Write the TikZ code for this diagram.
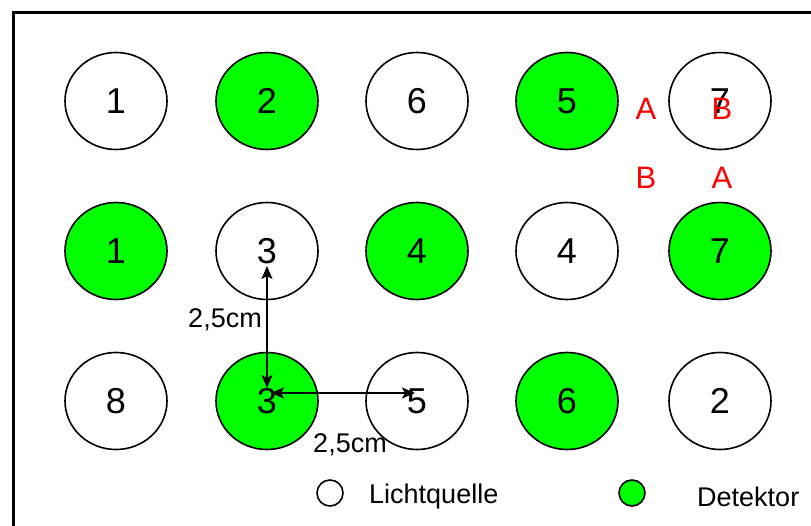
\documentclass[tikz,border=0pt]{standalone}
\usepackage{fontspec}
\setmainfont{Liberation Sans}
\usetikzlibrary{arrows.meta,shapes.geometric}
\definecolor{detgreen}{RGB}{0,255,0}
\tikzset{
  well/.style={ellipse, draw=black, line width=1.6pt, minimum width=102pt,
    minimum height=97pt, inner sep=0pt, font=\fontsize{36}{36}\selectfont},
  src/.style={well, fill=white},
  det/.style={well, fill=detgreen},
  redletter/.style={text=red, font=\fontsize{31}{31}\selectfont, inner sep=0pt},
  dimlabel/.style={font=\fontsize{27}{27}\selectfont, inner sep=0pt},
  dimarrow/.style={line width=1.5pt, {Stealth[length=13pt,width=11pt,inset=3pt]}-{Stealth[length=13pt,width=11pt,inset=3pt]}},
  legsym/.style={circle, draw=black, line width=1.6pt, minimum size=26pt, inner sep=0pt},
  legtext/.style={font=\fontsize{27}{27}\selectfont, inner sep=0pt, anchor=west}
}
\begin{document}
\begin{tikzpicture}[x=1pt,y=-1pt]
\useasboundingbox (0,0) rectangle (811,526);
\clip (0,0) rectangle (811,526);
% outer frame
\draw[line width=3pt] (13,560) -- (13,13) -- (840,13);
% first row
\node[src] (a1) at (116,101) {1};
\node[det] (a2) at (267,101) {2};
\node[src] (a3) at (417,101) {6};
\node[det] (a4) at (567,101) {5};
\node[src] (a5) at (720,101) {7};
% second row
\node[det] (b1) at (116,251) {1};
\node[src] (b2) at (267,251) {3};
\node[det] (b3) at (417,251) {4};
\node[src] (b4) at (567,251) {4};
\node[det] (b5) at (720,251) {7};
% third row
\node[src] (c1) at (116,401) {8};
\node[det] (c2) at (267,401) {3};
\node[src] (c3) at (417,401) {5};
\node[det] (c4) at (567,401) {6};
\node[src] (c5) at (720,401) {2};
% red markers
\node[redletter] (mA1) at (646,109) {A};
\node[redletter] (mB1) at (722,109) {B};
\node[redletter] (mB2) at (646,178) {B};
\node[redletter] (mA2) at (722,178) {A};
% distance arrows
\coordinate (vtop) at (267,266);
\coordinate (vbot) at (267,388);
\coordinate (hleft) at (271,393);
\coordinate (hright) at (415,393);
\draw[dimarrow] (vtop) -- (vbot);
\draw[dimarrow] (hleft) -- (hright);
\node[dimlabel] (dv) at (225,320) {2,5cm};
\node[dimlabel] (dh) at (350,445) {2,5cm};
% legend
\node[legsym, fill=white] (lsrc) at (330,493) {};
\node[legtext] (tsrc) at (369,497) {Lichtquelle};
\node[legsym, fill=detgreen] (ldet) at (632,493) {};
\node[legtext] (tdet) at (697,497) {Detektor};
\end{tikzpicture}
\end{document}
